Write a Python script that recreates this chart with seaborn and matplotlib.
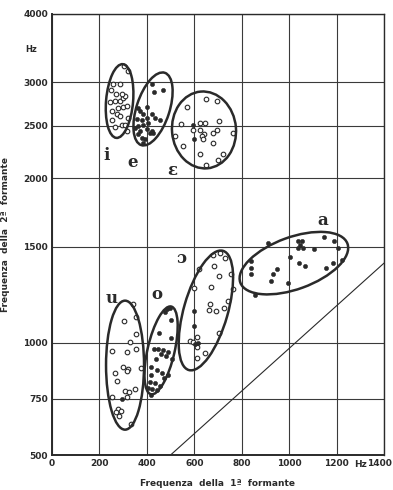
import numpy as np
import pandas as pd
import seaborn as sns
import matplotlib
matplotlib.use("Agg")
import matplotlib.pyplot as plt
from matplotlib.patches import Ellipse
from matplotlib.transforms import ScaledTranslation

# formant values (Hz): F1 = 1a formante, F2 = 2a formante
i_f1 = [305, 320, 257, 287, 249, 270, 245, 266, 287, 300, 308, 295, 278, 300, 316, 253, 274, 287, 253, 266, 295, 308, 316, 320]
i_f2 = [3210, 3145, 2980, 2980, 2905, 2855, 2765, 2770, 2770, 2810, 2830, 2855, 2690, 2705, 2715, 2660, 2625, 2605, 2560, 2485, 2505, 2505, 2445, 2580]

e_f1 = [422, 430, 468, 363, 371, 401, 384, 422, 434, 455, 358, 380, 401, 363, 384, 405, 350, 371, 401, 422, 363, 380, 392, 413, 426, 384]
e_f2 = [2980, 2880, 2905, 2695, 2660, 2705, 2625, 2625, 2580, 2560, 2570, 2560, 2580, 2500, 2505, 2530, 2475, 2445, 2465, 2445, 2415, 2370, 2360, 2425, 2425, 2320]

eps_f1 = [649, 696, 569, 704, 544, 624, 645, 595, 624, 519, 641, 679, 696, 633, 637, 679, 552, 624, 721, 763, 700, 649]
eps_f2 = [2795, 2770, 2705, 2550, 2515, 2530, 2530, 2455, 2455, 2395, 2415, 2425, 2455, 2395, 2365, 2325, 2295, 2220, 2220, 2425, 2165, 2120]
eps_full_f1 = [595, 599]
eps_full_f2 = [2505, 2365]

a_f1 = [911, 1037, 1054, 1046, 1058, 1037, 1105, 1147, 1189, 1206, 1223, 1185, 1155, 1004, 1042, 1067, 839, 839, 839, 949, 932, 924, 995, 856]
a_f2 = [1525, 1535, 1540, 1510, 1495, 1490, 1485, 1565, 1535, 1490, 1420, 1400, 1370, 1435, 1400, 1385, 1410, 1370, 1340, 1365, 1340, 1300, 1285, 1225]

oo_f1 = [679, 708, 730, 620, 683, 704, 755, 599, 671, 763, 742, 666, 662, 692, 725, 704, 611, 582, 595, 611, 645, 611]
oo_f2 = [1450, 1460, 1430, 1365, 1385, 1325, 1335, 1260, 1265, 1255, 1195, 1180, 1150, 1145, 1160, 1045, 1025, 1010, 1005, 980, 955, 935]
oo_full_f1 = [599, 599, 616, 603]
oo_full_f2 = [1145, 1075, 1000, 995]

u_f1 = [342, 354, 304, 354, 329, 253, 316, 354, 375, 299, 320, 316, 266, 274, 350, 308, 325, 316, 253, 278, 270, 291, 283, 333]
u_f2 = [1180, 1115, 1095, 1040, 1005, 965, 960, 975, 890, 895, 885, 875, 865, 830, 795, 785, 780, 760, 760, 705, 690, 695, 675, 640]
u_full_f1 = [295]
u_full_f2 = [750]

o_f1 = [485, 498, 477, 502, 451, 502, 430, 447, 468, 489, 460, 481, 439, 506, 417, 443, 464, 489, 417, 472, 413, 434, 455, 405, 422, 443, 417]
o_f2 = [1155, 1160, 1140, 1100, 1045, 1020, 975, 975, 970, 960, 950, 940, 930, 930, 895, 880, 865, 855, 855, 845, 825, 820, 810, 800, 795, 790, 770]

x_ticks = [0, 200, 400, 600, 800, 1000, 1200, 1400]
y_ticks = [500, 750, 1000, 1500, 2000, 2500, 3000, 4000]

open_df = pd.concat([
    pd.DataFrame({"F1": i_f1, "F2": i_f2}),
    pd.DataFrame({"F1": eps_f1, "F2": eps_f2}),
    pd.DataFrame({"F1": oo_f1, "F2": oo_f2}),
    pd.DataFrame({"F1": u_f1, "F2": u_f2}),
])
full_df = pd.concat([
    pd.DataFrame({"F1": e_f1, "F2": e_f2}),
    pd.DataFrame({"F1": eps_full_f1, "F2": eps_full_f2}),
    pd.DataFrame({"F1": a_f1, "F2": a_f2}),
    pd.DataFrame({"F1": oo_full_f1, "F2": oo_full_f2}),
    pd.DataFrame({"F1": u_full_f1, "F2": u_full_f2}),
    pd.DataFrame({"F1": o_f1, "F2": o_f2}),
])

# vowel areas: centre (F1, F2), then size in inches and angle
areas = [
    (285, 2772, 0.74, 0.27, 85),
    (426, 2681, 0.76, 0.33, 72),
    (641, 2454, 0.77, 0.64, 95),
    (1020, 1400, 1.14, 0.52, 20),
    (649, 1147, 1.24, 0.44, 74),
    (308, 901, 1.29, 0.38, 90),
    (460, 967, 0.90, 0.27, 77),
]
labels = [("i", 232, 2200), ("e", 342, 2136), ("ε", 506, 2066), ("a", 1143, 1675),
          ("ɔ", 544, 1427), ("u", 253, 1207), ("o", 443, 1227)]


def fwd(f):
    f = np.asarray(f, dtype=float)
    return np.where(f <= 1000, 0.944 * (f / 1000 - 1), np.log(np.maximum(f, 1e-6) / 1000))


def inv(u):
    u = np.asarray(u, dtype=float)
    return np.where(u <= 0, 1000 * (1 + u / 0.944), 1000 * np.exp(np.minimum(u, 50)))


sns.set_style("white")
ink = "#2a2a2a"
fig = plt.figure(figsize=(3.93, 4.90), dpi=100)
ax = fig.add_axes([52 / 393, 35 / 490, 332 / 393, 441 / 490])
ax.set_yscale("function", functions=(fwd, inv))
ax.set_xlim(0, 1400)
ax.set_ylim(500, 4000)

ax.set_xticks(x_ticks)
ax.set_yticks(y_ticks)
ax.set_xticklabels([str(t) for t in x_ticks])
ax.set_yticklabels([str(t) for t in y_ticks])
ax.yaxis.set_minor_locator(matplotlib.ticker.NullLocator())
ax.tick_params(length=0, labelsize=6.5, colors=ink, pad=3)
for lab in ax.get_xticklabels() + ax.get_yticklabels():
    lab.set_fontweight("bold")
# last x label sits at the right edge of the page
last = ax.get_xticklabels()[-1]
last.set_ha("right")
last.set_transform(last.get_transform() + ScaledTranslation(0.075, 0, fig.dpi_scale_trans))

ax.grid(True, color="#3a3a3a", lw=0.8)
for sp in ax.spines.values():
    sp.set_color(ink)
    sp.set_linewidth(1.0)
ax.spines["left"].set_linewidth(1.4)
ax.spines["bottom"].set_linewidth(1.4)

# F2 = F1 line
ax.plot([500, 1400], [500, 1400], color=ink, lw=0.8)

sns.scatterplot(data=open_df, x="F1", y="F2", ax=ax, marker="o", s=11,
                facecolor="white", edgecolor=ink, linewidth=0.8, zorder=3)
sns.scatterplot(data=full_df, x="F1", y="F2", ax=ax, marker="o", s=9,
                color=ink, edgecolor=ink, linewidth=0.4, zorder=3)

for cx, cy, w, h, ang in areas:
    tr = fig.dpi_scale_trans + ScaledTranslation(cx, cy, ax.transData)
    ax.add_patch(Ellipse((0, 0), w, h, angle=ang, transform=tr, fill=False,
                         ec=ink, lw=1.8, zorder=4))

for txt, x, y in labels:
    ax.text(x, y, txt, fontsize=12, fontweight="bold", family="DejaVu Serif",
            ha="center", va="center", color=ink)

ax.text(-0.045, 3450, "Hz", transform=ax.get_yaxis_transform(), fontsize=6,
        fontweight="bold", ha="right", va="center", color=ink)
ax.text(1300, -0.011, "Hz", transform=ax.get_xaxis_transform(), fontsize=6.5,
        fontweight="bold", ha="center", va="top", color=ink)

ax.set_xlabel("Frequenza  della  1ª  formante", fontsize=6.5, fontweight="bold", color=ink)
ax.set_ylabel("Frequenza  della  2ª  formante", fontsize=6.5, fontweight="bold", color=ink)
ax.xaxis.set_label_coords(0.5, -0.055)
ax.yaxis.set_label_coords(-0.125, 0.5)

fig.savefig("out.png", dpi=100)
